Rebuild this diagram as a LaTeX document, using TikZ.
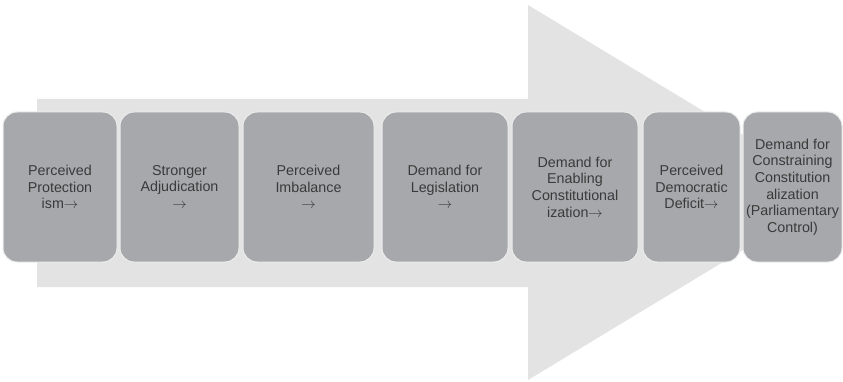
\documentclass[tikz,border=0pt]{standalone}
\usepackage{fontspec}
\setmainfont{Liberation Sans}
\begin{document}
\begin{tikzpicture}[x=1pt,y=-1pt,
  stage/.style={rectangle, rounded corners=14pt, fill=boxgray, draw=edgewhite,
    line width=1pt, minimum height=150pt, inner sep=2pt, align=center,
    text=textgray, font=\fontsize{14.3}{16.6}\selectfont},
]
\definecolor{arrowgray}{HTML}{E3E3E4}
\definecolor{boxgray}{HTML}{A7A8AB}
\definecolor{edgewhite}{HTML}{EDEDEE}
\definecolor{textgray}{HTML}{3A3A3A}
\useasboundingbox (0,0) rectangle (843,382);
\fill[white] (0,0) rectangle (843,382);

% large background arrow
\fill[arrowgray] (37,99) -- (528,99) -- (528,5) -- (838,192.5) -- (528,380)
  -- (528,287) -- (37,287) -- cycle;

% stages of the process
\node[stage, minimum width=114pt] (b1) at (60,187)
  {Perceived\\Protection\\ism$\rightarrow$};
\node[stage, minimum width=119pt] (b2) at (179.5,187)
  {Stronger\\Adjudication\\$\rightarrow$};
\node[stage, minimum width=131pt] (b3) at (308.5,187)
  {Perceived\\Imbalance\\$\rightarrow$};
\node[stage, minimum width=126pt] (b4) at (445,187)
  {Demand for\\Legislation\\$\rightarrow$};
\node[stage, minimum width=126pt] (b5) at (575,187)
  {Demand for\\Enabling\\Constitutional\\ization$\rightarrow$};
\node[stage, minimum width=97pt] (b6) at (691.5,187)
  {Perceived\\Democratic\\Deficit$\rightarrow$};
\node[stage, minimum width=99pt] (b7) at (792.5,187)
  {Demand for\\Constraining\\Constitution\\alization\\(Parliamentary\\Control)};
\end{tikzpicture}
\end{document}
